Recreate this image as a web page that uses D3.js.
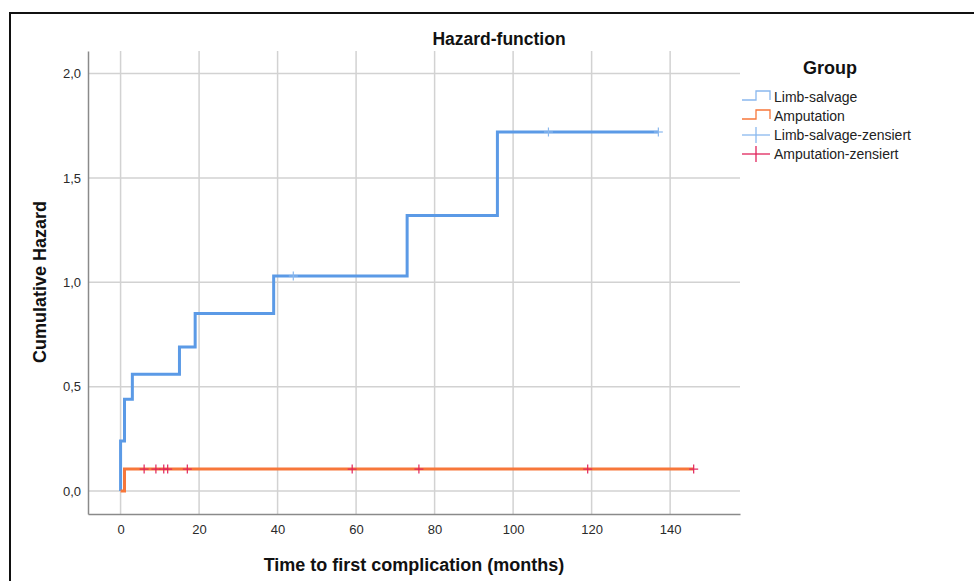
<!DOCTYPE html>
<html>
<head>
<meta charset="utf-8">
<script src="https://cdn.jsdelivr.net/npm/d3@7"></script>
<style>
  body { margin: 0; background: #fff; }
  svg { display: block; font-family: 'Liberation Sans', Arial, sans-serif; }
</style>
</head>
<body>
<div id="chart"></div>
<script>
// data
const limbTimes = [0, 1, 3, 15, 19, 39, 73, 96]
const limbHazard = [0.24, 0.44, 0.56, 0.69, 0.85, 1.03, 1.32, 1.72]
const limbEnd = 137
const limbCensored = [44, 109, 137]

const ampTimes = [1]
const ampHazard = [0.105]
const ampEnd = 146
const ampCensored = [6, 9, 11, 12, 17, 59, 76, 119, 146]

const xTicks = [0, 20, 40, 60, 80, 100, 120, 140]
const yTicks = [0, 0.5, 1.0, 1.5, 2.0]
const groups = ['Limb-salvage', 'Amputation', 'Limb-salvage-zensiert', 'Amputation-zensiert']

// size
const W = 974, H = 581
const margin = { left: 88, top: 51, right: 234, bottom: 67 }
const width = W - margin.left - margin.right
const height = H - margin.top - margin.bottom

// style
const blue = '#5b9ae6'
const orange = '#f7773a'
const crimson = '#e0245c'
const lightBlue = '#8ab8ee'

// scale
const x = d3.scaleLinear().domain([-8.3, 157.8]).range([0, width])
const y = d3.scaleLinear().domain([-0.11, 2.108]).range([height, 0])

// build step series starting at (0, 0)
function steps(times, haz, end) {
  const pts = [[0, 0]]
  times.forEach((t, i) => pts.push([t, haz[i]]))
  pts.push([end, haz[haz.length - 1]])
  return pts
}
function valueAt(times, haz, t) {
  let v = 0
  times.forEach((tt, i) => { if (tt <= t) v = haz[i] })
  return v
}

const svg = d3.select('#chart').append('svg').attr('width', W).attr('height', H)

// frame
svg.append('path')
  .attr('d', `M10,${H} V13 H${W}`)
  .attr('fill', 'none')
  .attr('stroke', '#111')
  .attr('stroke-width', 2)

const plot = svg.append('g').attr('transform', `translate(${margin.left}, ${margin.top})`)

// grid
plot.append('g')
  .selectAll('line')
  .data(xTicks)
  .join('line')
  .attr('x1', d => x(d)).attr('x2', d => x(d))
  .attr('y1', 0).attr('y2', height)
  .attr('stroke', '#d2d2d2').attr('stroke-width', 1.5)

plot.append('g')
  .selectAll('line')
  .data(yTicks)
  .join('line')
  .attr('x1', 0).attr('x2', width)
  .attr('y1', d => y(d)).attr('y2', d => y(d))
  .attr('stroke', '#d2d2d2').attr('stroke-width', 1.5)

// axes
const xAxis = plot.append('g')
  .attr('transform', `translate(0, ${height})`)
  .call(d3.axisBottom(x).tickValues(xTicks).tickSize(0).tickPadding(11).tickFormat(d3.format('d')))
const yAxis = plot.append('g')
  .call(d3.axisLeft(y).tickValues(yTicks).tickSize(0).tickPadding(7).tickFormat(d => d3.format('.1f')(d).replace('.', ',')))

;[xAxis, yAxis].forEach(a => {
  a.select('.domain').attr('stroke', '#8a8a8a').attr('stroke-width', 1.5)
  a.selectAll('text').attr('font-size', '13px').attr('fill', '#2a2a2a')
    .attr('font-family', "'Liberation Sans', Arial, sans-serif")
})

// axis titles
plot.append('text')
  .attr('x', width / 2)
  .attr('y', height + 57)
  .attr('text-anchor', 'middle')
  .attr('font-size', '18px')
  .attr('font-weight', 'bold')
  .attr('fill', '#111')
  .text('Time to first complication (months)')

plot.append('text')
  .attr('transform', `translate(${46 - margin.left}, ${282 - margin.top}) rotate(-90)`)
  .attr('text-anchor', 'middle')
  .attr('font-size', '18px')
  .attr('font-weight', 'bold')
  .attr('fill', '#111')
  .text('Cumulative Hazard')

svg.append('text')
  .attr('x', 499)
  .attr('y', 45)
  .attr('text-anchor', 'middle')
  .attr('font-size', '17.5px')
  .attr('font-weight', 'bold')
  .attr('fill', '#111')
  .text('Hazard-function')

// curves
const line = d3.line().x(d => x(d[0])).y(d => y(d[1])).curve(d3.curveStepAfter)

plot.append('path')
  .datum(steps(limbTimes, limbHazard, limbEnd))
  .attr('d', line)
  .attr('fill', 'none')
  .attr('stroke', blue)
  .attr('stroke-width', 3)

plot.append('path')
  .datum(steps(ampTimes, ampHazard, ampEnd))
  .attr('d', line)
  .attr('fill', 'none')
  .attr('stroke', orange)
  .attr('stroke-width', 3)

// censor marks
function censor(times, haz, cens, color) {
  const g = plot.append('g')
  cens.forEach(t => {
    const cx = x(t), cy = y(valueAt(times, haz, t))
    g.append('line').attr('x1', cx).attr('x2', cx).attr('y1', cy - 4.5).attr('y2', cy + 4.5)
      .attr('stroke', color).attr('stroke-width', 1.2)
    g.append('line').attr('x1', cx - 4.5).attr('x2', cx + 4.5).attr('y1', cy).attr('y2', cy)
      .attr('stroke', color).attr('stroke-width', 1.2)
  })
}
censor(limbTimes, limbHazard, limbCensored, lightBlue)
censor(ampTimes, ampHazard, ampCensored, crimson)

// legend
const legend = svg.append('g').attr('transform', 'translate(742, 0)')
legend.append('text')
  .attr('x', 88).attr('y', 74)
  .attr('text-anchor', 'middle')
  .attr('font-size', '18px')
  .attr('font-weight', 'bold')
  .attr('fill', '#111')
  .text('Group')

const legendColors = [lightBlue, orange, lightBlue, crimson]
groups.forEach((name, i) => {
  const cy = 97 + i * 19
  const c = legendColors[i]
  if (i < 2) {
    legend.append('path')
      .attr('d', `M0,${cy + 3} H14 V${cy - 6} H28 V${cy + 3}`)
      .attr('fill', 'none').attr('stroke', c).attr('stroke-width', 1.3)
  } else {
    legend.append('line').attr('x1', 0).attr('x2', 28).attr('y1', cy).attr('y2', cy)
      .attr('stroke', c).attr('stroke-width', 1.3)
    legend.append('line').attr('x1', 14).attr('x2', 14).attr('y1', cy - 8).attr('y2', cy + 8)
      .attr('stroke', c).attr('stroke-width', 1.3)
  }
  legend.append('text')
    .attr('x', 32).attr('y', cy + 5)
    .attr('font-size', '14px')
    .attr('fill', '#222')
    .text(name)
})
</script>
</body>
</html>
